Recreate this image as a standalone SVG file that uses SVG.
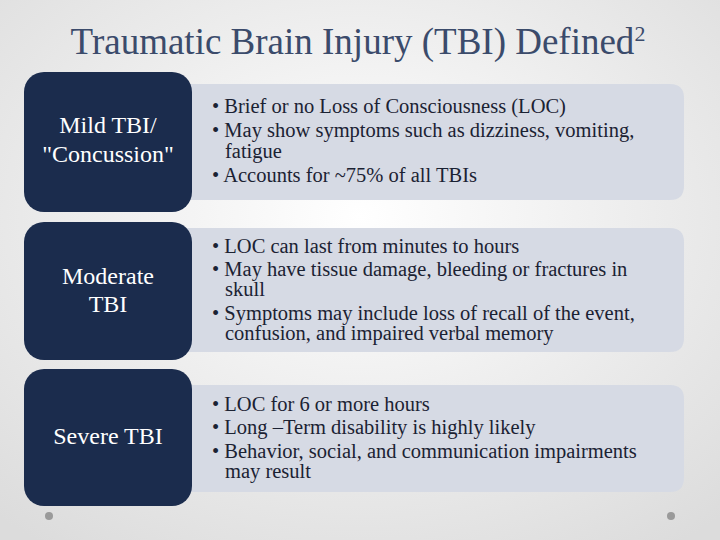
<svg xmlns="http://www.w3.org/2000/svg" width="720" height="540" viewBox="0 0 720 540">
<defs>
<radialGradient id="bg" cx="0.5" cy="0.4" r="0.75"><stop offset="0" stop-color="#ffffff"/><stop offset="1" stop-color="#dcdcdc"/></radialGradient>
<style>
.dk{fill:#1b2c4d}
.lt{fill:#d6dae4}
.h{font-family:"Liberation Serif",serif;font-size:24px;fill:#ffffff;text-anchor:middle}
.b{font-family:"Liberation Serif",serif;font-size:20.5px;fill:#1b2233}
</style>
</defs>
<rect width="720" height="540" fill="url(#bg)"/>
<text x="358" y="54" text-anchor="middle" font-family="Liberation Serif,serif" font-size="37" fill="#3b4b6b">Traumatic Brain Injury (TBI) Defined<tspan font-size="22" dy="-13">2</tspan></text>
<g id="row1">
<path class="lt" d="M180 84 H670 Q684 84 684 98 V186 Q684 200 670 200 H180 Z"/>
<rect class="dk" x="24" y="72" width="168" height="140" rx="20"/>
<text class="h" x="108" y="133">Mild TBI/</text>
<text class="h" x="108" y="162">"Concussion"</text>
<text class="b"><tspan x="212" y="113">• Brief or no Loss of Consciousness (LOC)</tspan><tspan x="212" y="137">• May show symptoms such as dizziness, vomiting,</tspan><tspan x="225" y="158">fatigue</tspan><tspan x="212" y="182">• Accounts for ~75% of all TBIs</tspan></text>
</g>
<g id="row2">
<path class="lt" d="M180 228 H670 Q684 228 684 242 V338 Q684 352 670 352 H180 Z"/>
<rect class="dk" x="24" y="222" width="168" height="138" rx="20"/>
<text class="h" x="108" y="284">Moderate</text>
<text class="h" x="108" y="312">TBI</text>
<text class="b"><tspan x="212" y="253">• LOC can last from minutes to hours</tspan><tspan x="212" y="276">• May have tissue damage, bleeding or fractures in</tspan><tspan x="225" y="296">skull</tspan><tspan x="212" y="320">• Symptoms may include loss of recall of the event,</tspan><tspan x="225" y="340">confusion, and impaired verbal memory</tspan></text>
</g>
<g id="row3">
<path class="lt" d="M180 385 H670 Q684 385 684 399 V478 Q684 492 670 492 H180 Z"/>
<rect class="dk" x="24" y="369" width="168" height="137" rx="20"/>
<text class="h" x="108" y="444">Severe TBI</text>
<text class="b"><tspan x="212" y="411">• LOC for 6 or more hours</tspan><tspan x="212" y="434">• Long –Term disability is highly likely</tspan><tspan x="212" y="458">• Behavior, social, and communication impairments</tspan><tspan x="225" y="478">may result</tspan></text>
</g>
<g id="connectors"/>
<circle cx="49" cy="516" r="4" fill="#9a9a9a"/>
<circle cx="671" cy="516" r="4" fill="#9a9a9a"/>
</svg>
